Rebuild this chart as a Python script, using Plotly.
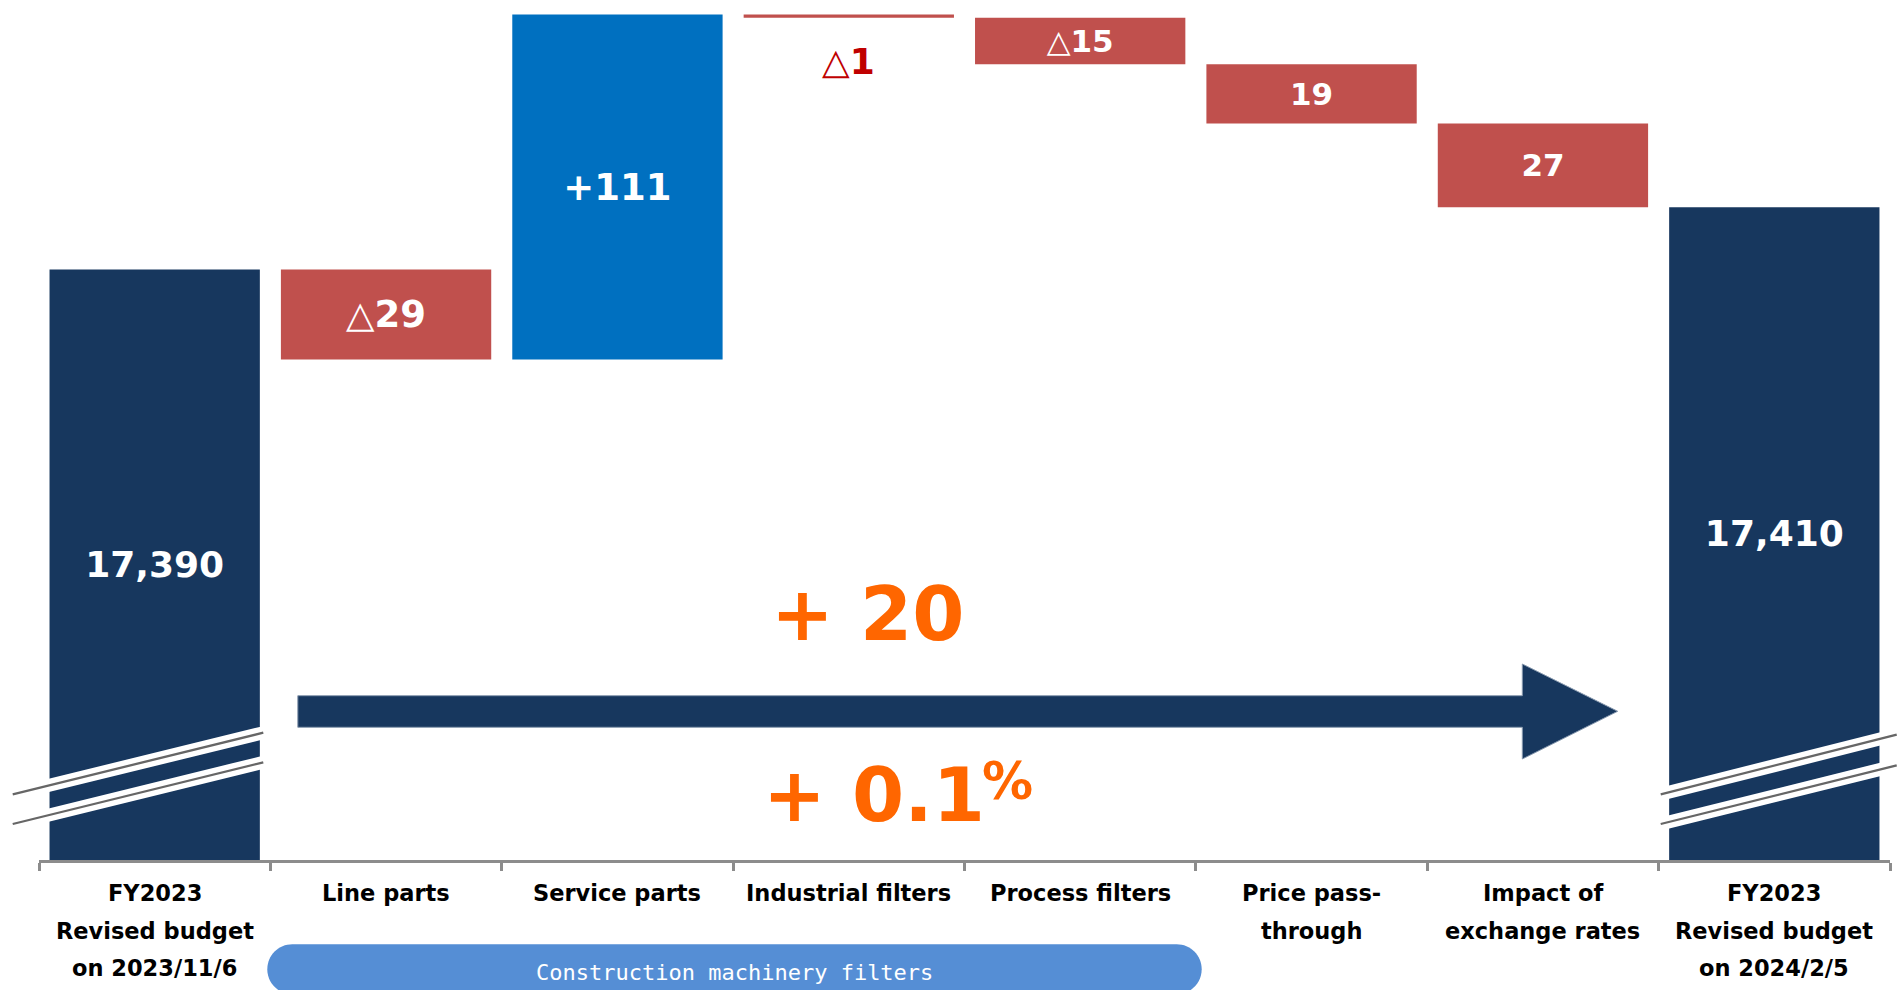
import plotly.graph_objects as go

# ---------------- data ----------------
categories = [
    "FY2023<br>Revised budget<br>on 2023/11/6",
    "Line parts",
    "Service parts",
    "Industrial filters",
    "Process filters",
    "Price pass-<br>through",
    "Impact of<br>exchange rates",
    "FY2023<br>Revised budget<br>on 2024/2/5",
]
start_total = 17390
changes = [-29, 111, -1, -15, -19, -27]
end_total = 17410
value_labels = ["17,390", "△29", "+111", "△1", "△15", "19", "27", "17,410"]
group_label = "Construction machinery filters"

# ---------------- styling constants ----------------
AXIS_FLOOR = 17200          # broken-axis floor
AXIS_TOP = 17476.7
NAVY = "#17375E"
RED = "#C0504D"
BLUE = "#0070C0"
ORANGE = "#FF6600"
GRAY = "#8c8c8c"
FONT = "DejaVu Sans"

W, H = 1898, 990
ML, MR, MT, MB = 39, 8, 0, 130
PW, PH = W - ML - MR, H - MT - MB


def px_x(X):
    return (X - ML) / PW


def px_y(Y):
    return (MT + PH - Y) / PH


# ---------------- waterfall geometry from data ----------------
bases, heights, colors = [AXIS_FLOOR], [start_total - AXIS_FLOOR], [NAVY]
running = start_total
for c in changes:
    bases.append(running)
    heights.append(c)
    colors.append(BLUE if c > 0 else RED)
    running += c
bases.append(AXIS_FLOOR)
heights.append(end_total - AXIS_FLOOR)
colors.append(NAVY)

text_pos = ["inside"] * len(categories)
text_pos[3] = "none"   # the tiny bar gets its label underneath
text_sizes = [36, 37, 37, 36, 31, 31, 31, 36]

x_idx = list(range(len(categories)))

fig = go.Figure()
fig.add_trace(go.Bar(
    x=x_idx,
    y=heights,
    base=bases,
    marker=dict(color=colors, line=dict(width=0)),
    text=["<b>%s</b>" % t for t in value_labels],
    textposition=text_pos,
    insidetextanchor="middle",
    textangle=0,
    constraintext="none",
    textfont=dict(family=FONT, size=text_sizes, color="white"),
    hoverinfo="skip",
))

annotations = []

# label of the tiny decrease bar, under the bar
annotations.append(dict(
    x=3, y=bases[3] + heights[3], xref="x", yref="y",
    text="<b>%s</b>" % value_labels[3], showarrow=False,
    yanchor="top", yshift=-21,
    font=dict(family=FONT, size=36, color="#C00000"),
))

# category labels (multi-line, generous line spacing)
for i, cat in enumerate(categories):
    for j, line in enumerate(cat.split("<br>")):
        annotations.append(dict(
            x=i, xref="x", y=px_y(893 + j * 37.5), yref="paper",
            text="<b>%s</b>" % line, showarrow=False,
            xanchor="center", yanchor="middle",
            font=dict(family=FONT, size=22.5, color="black"),
        ))

# total change texts computed from data
diff = end_total - start_total
pct = diff / start_total * 100
annotations.append(dict(
    x=px_x(867), y=px_y(614), xref="paper", yref="paper",
    text="<b>+ %d</b>" % diff, showarrow=False,
    xanchor="center", yanchor="middle",
    font=dict(family=FONT, size=75, color=ORANGE),
))
annotations.append(dict(
    x=px_x(987), y=px_y(795), xref="paper", yref="paper",
    text="<b>+ %.1f</b>" % pct, showarrow=False,
    xanchor="right", yanchor="middle",
    font=dict(family=FONT, size=75, color=ORANGE),
))
annotations.append(dict(
    x=px_x(980), y=px_y(781), xref="paper", yref="paper",
    text="<b>%</b>", showarrow=False,
    xanchor="left", yanchor="middle",
    font=dict(family=FONT, size=51, color=ORANGE),
))

# group label in the pill
annotations.append(dict(
    x=px_x(734.5), y=px_y(972), xref="paper", yref="paper",
    text=group_label, showarrow=False,
    xanchor="center", yanchor="middle",
    font=dict(family="DejaVu Sans Mono", size=22, color="white"),
))

shapes = []


def path_from_px(cmds):
    out = []
    for c in cmds:
        if isinstance(c, str):
            out.append(c)
        else:
            out.append("%.6f,%.6f" % (px_x(c[0]), px_y(c[1])))
    return " ".join(out)


# big arrow
arrow = path_from_px([
    "M", (297.8, 695.7), "L", (1522.3, 695.7), "L", (1522.3, 664),
    "L", (1617.7, 711.3), "L", (1522.3, 759), "L", (1522.3, 727.3),
    "L", (297.8, 727.3), "Z",
])
shapes.append(dict(type="path", xref="paper", yref="paper", path=arrow,
                   fillcolor=NAVY, line=dict(color="#8a9bb0", width=1), layer="above"))

# rounded pill for the construction-machinery group
x0, x1, y0, y1, r = 267.3, 1201.7, 944.3, 994.3, 25
k = 0.5523 * r
pill = path_from_px([
    "M", (x0 + r, y0), "L", (x1 - r, y0),
    "C", (x1 - r + k, y0), (x1, y0 + r - k), (x1, y0 + r),
    "L", (x1, y1 - r),
    "C", (x1, y1 - r + k), (x1 - r + k, y1), (x1 - r, y1),
    "L", (x0 + r, y1),
    "C", (x0 + r - k, y1), (x0, y1 - r + k), (x0, y1 - r),
    "L", (x0, y0 + r),
    "C", (x0, y0 + r - k), (x0 + r - k, y0), (x0 + r, y0), "Z",
])
shapes.append(dict(type="path", xref="paper", yref="paper", path=pill,
                   fillcolor="#558ED5", line=dict(width=0), layer="above"))

# axis-break marks on the two total bars
breaks = [
    ((12.7, 794.3), (263.3, 732.7)),
    ((12.7, 824.0), (263.3, 762.3)),
    ((1660.7, 794.3), (1896.7, 734.7)),
    ((1660.7, 824.0), (1896.7, 765.3)),
]
for (ax0, ay0), (ax1, ay1) in breaks:
    shapes.append(dict(type="line", xref="paper", yref="paper",
                       x0=px_x(ax0), y0=px_y(ay0), x1=px_x(ax1), y1=px_y(ay1),
                       line=dict(color="white", width=13), layer="above"))
for (ax0, ay0), (ax1, ay1) in breaks:
    shapes.append(dict(type="line", xref="paper", yref="paper",
                       x0=px_x(ax0), y0=px_y(ay0), x1=px_x(ax1), y1=px_y(ay1),
                       line=dict(color="#666666", width=2.3), layer="above"))

fig.update_layout(
    width=W, height=H,
    margin=dict(l=ML, r=MR, t=MT, b=MB, pad=0),
    plot_bgcolor="white", paper_bgcolor="white",
    showlegend=False,
    bargap=0.091,
    xaxis=dict(
        type="linear", range=[-0.5, len(categories) - 0.5],
        tickmode="array", tickvals=[i - 0.5 for i in range(len(categories) + 1)],
        showticklabels=False, ticks="outside", ticklen=8, tickwidth=2.5, tickcolor=GRAY,
        showline=True, linecolor=GRAY, linewidth=2.5,
        showgrid=False, zeroline=False, fixedrange=True,
    ),
    yaxis=dict(visible=False, range=[AXIS_FLOOR, AXIS_TOP], fixedrange=True),
    annotations=annotations,
    shapes=shapes,
)

fig.write_html("out.html")
